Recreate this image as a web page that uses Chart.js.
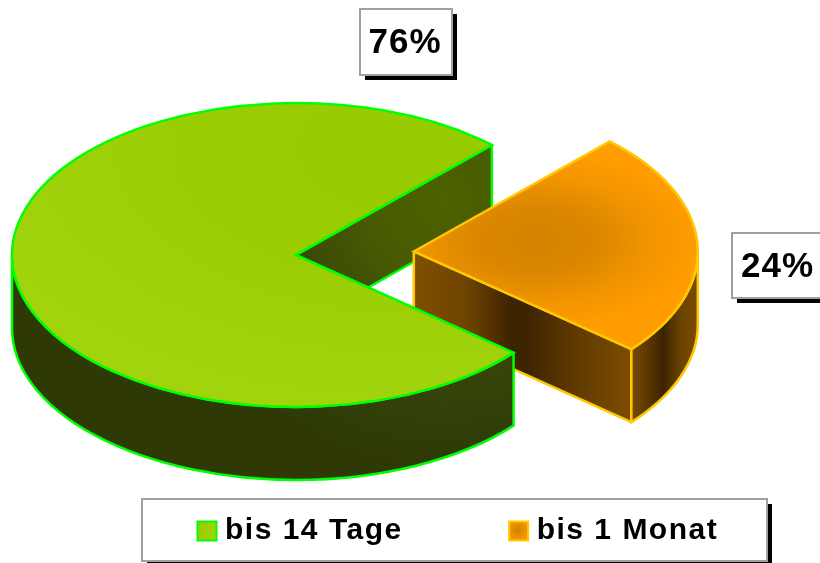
<!DOCTYPE html>
<html>
<head>
<meta charset="utf-8">
<style>html,body{margin:0;padding:0;background:#fff;overflow:hidden}canvas{display:block}</style>
<script src="https://cdn.jsdelivr.net/npm/chart.js@4"></script>
</head>
<body>
<canvas id="c" width="820" height="563"></canvas>
<script>
const categories = ['bis 14 Tage', 'bis 1 Monat'];
const values = [76, 24];
const explode = [0, 472];
const edgeColors = ['#00ff00', '#ffc800'];

// 3D projection of the pie
const PX = 296, PY = 255, SQUASH = 0.535, DEPTH = 73, RADIUS = 284, START_DEG = 130, EDGE = 2.5;
const FONT = '"Liberation Sans", Arial, sans-serif';
const LEGEND_SPACING = '1.5px', LEGEND_SIZE = 30, LEGEND_PAD = 113;
const LEGEND_FRAME = {x: 142, y: 499, w: 625, h: 62, shadow: 5};
const LABEL_FRAMES = [
  {x: 360, y: 9, w: 92, h: 66, shadow: 5, tx: 405, ty: 43},
  {x: 732, y: 233, w: 100, h: 65, shadow: 5, tx: 777.5, ty: 267}
];

const canvas = document.getElementById('c');
const g = canvas.getContext('2d');

function stops(gr, list) { list.forEach(s => gr.addColorStop(s[0], s[1])); return gr; }
function hgrad(x0, x1, list) { return stops(g.createLinearGradient(x0, 0, x1, 0), list); }

const greenWall = () => stops(g.createRadialGradient(445, 200, 0, 445, 200, 270), [
  [0, '#4d6200'], [0.3, '#475a02'], [0.62, '#37450a'], [1, '#2e3906']]);
const orangeFrontWall = () => hgrad(414, 630, [
  [0, '#805000'], [0.25, '#6e4300'], [0.45, '#3d2400'], [0.52, '#3d2400'], [0.75, '#603a00'], [1, '#7c4d00']]);
const orangeSideWall = () => hgrad(630, 697, [
  [0, '#7a4c00'], [0.28, '#5a3600'], [0.5, '#3d2400'], [0.75, '#6a4200'], [1, '#7a4c00']]);

function topFill(ctx) {
  const a = ctx.chart.chartArea;
  if (!a) return '#99cc00';
  const cx = (a.left + a.right) / 2, cy = (a.top + a.bottom) / 2;
  if (ctx.dataIndex === 0) {
    return stops(g.createRadialGradient(cx + 130, cy - 200, 0, cx + 130, cy - 200, 480), [
      [0, '#97cb00'], [0.45, '#99cd02'], [1, '#a2d40e']]);
  }
  return stops(g.createRadialGradient(cx + 121, cy - 21, 0, cx + 121, cy - 21, 165), [
    [0, '#d48200'], [0.35, '#da8600'], [0.75, '#f49600'], [1, '#ff9c00']]);
}

function geometry(el) {
  const mid = (el.startAngle + el.endAngle) / 2, off = (el.options.offset || 0) / 4;
  return {
    x: PX + Math.cos(mid) * off,
    y: PY + Math.sin(mid) * off * SQUASH,
    rx: el.outerRadius, ry: el.outerRadius * SQUASH,
    a: el.startAngle, b: el.endAngle
  };
}
function radialWall(c, p, angle, fill, stroke) {
  const ex = p.x + Math.cos(angle) * p.rx, ey = p.y + Math.sin(angle) * p.ry;
  c.beginPath();
  c.moveTo(p.x, p.y); c.lineTo(ex, ey); c.lineTo(ex, ey + DEPTH); c.lineTo(p.x, p.y + DEPTH); c.closePath();
  c.fillStyle = fill; c.fill();
  c.strokeStyle = stroke; c.lineWidth = EDGE; c.lineJoin = 'round'; c.stroke();
}
function outerWall(c, p, fill, stroke) {
  for (let k = 0; k < 2; k++) {
    const s = Math.max(p.a, 2 * Math.PI * k), e = Math.min(p.b, 2 * Math.PI * k + Math.PI);
    if (e <= s) continue;
    c.beginPath();
    c.ellipse(p.x, p.y, p.rx, p.ry, 0, s, e);
    c.ellipse(p.x, p.y + DEPTH, p.rx, p.ry, 0, e, s, true);
    c.closePath();
    c.fillStyle = fill; c.fill();
    c.strokeStyle = stroke; c.lineWidth = EDGE; c.lineJoin = 'round'; c.stroke();
  }
}
function frame(c, f) {
  c.fillStyle = '#000';
  c.fillRect(f.x + f.shadow, f.y + f.shadow, f.w, f.h);
  c.fillStyle = '#fff';
  c.fillRect(f.x, f.y, f.w, f.h);
  c.strokeStyle = '#a0a0a0'; c.lineWidth = 2;
  c.strokeRect(f.x, f.y, f.w, f.h);
}

const pie3d = {
  id: 'pie3d',
  beforeLayout(chart) { chart.ctx.letterSpacing = LEGEND_SPACING; },
  afterLayout(chart) {
    chart.legend.left = 204 - LEGEND_PAD;
    chart.legend.right = 1200;
    chart.legend.top = 516 - LEGEND_PAD;
  },
  afterDatasetsUpdate(chart) {
    chart.getDatasetMeta(0).data.forEach(el => { el.outerRadius = RADIUS; });
  },
  beforeDraw(chart) {
    chart.ctx.letterSpacing = LEGEND_SPACING;
    frame(chart.ctx, LEGEND_FRAME);
  },
  beforeDatasetsDraw(chart) {
    const c = chart.ctx, arcs = chart.getDatasetMeta(0).data;
    const green = geometry(arcs[0]), orange = geometry(arcs[1]);
    // walls in painter's order: the notch, the pulled out slice, the front of the big slice
    radialWall(c, green, green.b, greenWall(), edgeColors[0]);
    radialWall(c, orange, orange.b, orangeFrontWall(), edgeColors[1]);
    outerWall(c, orange, orangeSideWall(), edgeColors[1]);
    outerWall(c, green, greenWall(), edgeColors[0]);
    const a = arcs[0];
    c.save();
    c.translate(PX, PY); c.scale(1, SQUASH); c.translate(-a.x, -a.y);
  },
  afterDatasetsDraw(chart) {
    const c = chart.ctx;
    c.restore();
    chart.getDatasetMeta(0).data.forEach((el, i) => {
      const p = geometry(el);
      c.beginPath();
      c.moveTo(p.x, p.y);
      c.ellipse(p.x, p.y, p.rx, p.ry, 0, p.a, p.b);
      c.closePath();
      c.strokeStyle = edgeColors[i]; c.lineWidth = EDGE; c.lineJoin = 'miter'; c.stroke();
    });
  },
  afterDraw(chart) {
    const c = chart.ctx;
    c.save();
    c.letterSpacing = '1px';
    values.forEach((v, i) => {
      const f = LABEL_FRAMES[i];
      frame(c, f);
      c.fillStyle = '#000';
      c.font = 'bold 35px ' + FONT;
      c.textAlign = 'center'; c.textBaseline = 'middle';
      c.fillText(v + '%', f.tx, f.ty);
    });
    c.restore();
  }
};

new Chart(canvas, {
  type: 'pie',
  data: {
    labels: categories,
    datasets: [{
      data: values,
      offset: explode,
      borderWidth: 0,
      clip: false,
      backgroundColor: topFill
    }]
  },
  options: {
    responsive: false,
    animation: false,
    rotation: START_DEG,
    plugins: {
      tooltip: {enabled: false},
      legend: {
        position: 'bottom',
        align: 'start',
        onClick: null,
        labels: {
          usePointStyle: true,
          boxWidth: 6,
          boxHeight: 19,
          padding: LEGEND_PAD,
          color: '#000',
          font: {family: FONT, size: LEGEND_SIZE, weight: 'bold'},
          generateLabels() {
            const swatchGreen = hgrad(197, 217, [[0, '#99cc00'], [1, '#a2d40e']]);
            const swatchOrange = stops(g.createRadialGradient(518, 530, 0, 518, 530, 13), [[0, '#d48200'], [1, '#ff9c00']]);
            return categories.map((t, i) => ({
              text: t, index: i, datasetIndex: 0, hidden: false,
              fillStyle: i === 0 ? swatchGreen : swatchOrange,
              strokeStyle: edgeColors[i], lineWidth: 2, pointStyle: 'rect', fontColor: '#000'
            }));
          }
        }
      }
    }
  },
  plugins: [pie3d]
});
</script>
</body>
</html>
